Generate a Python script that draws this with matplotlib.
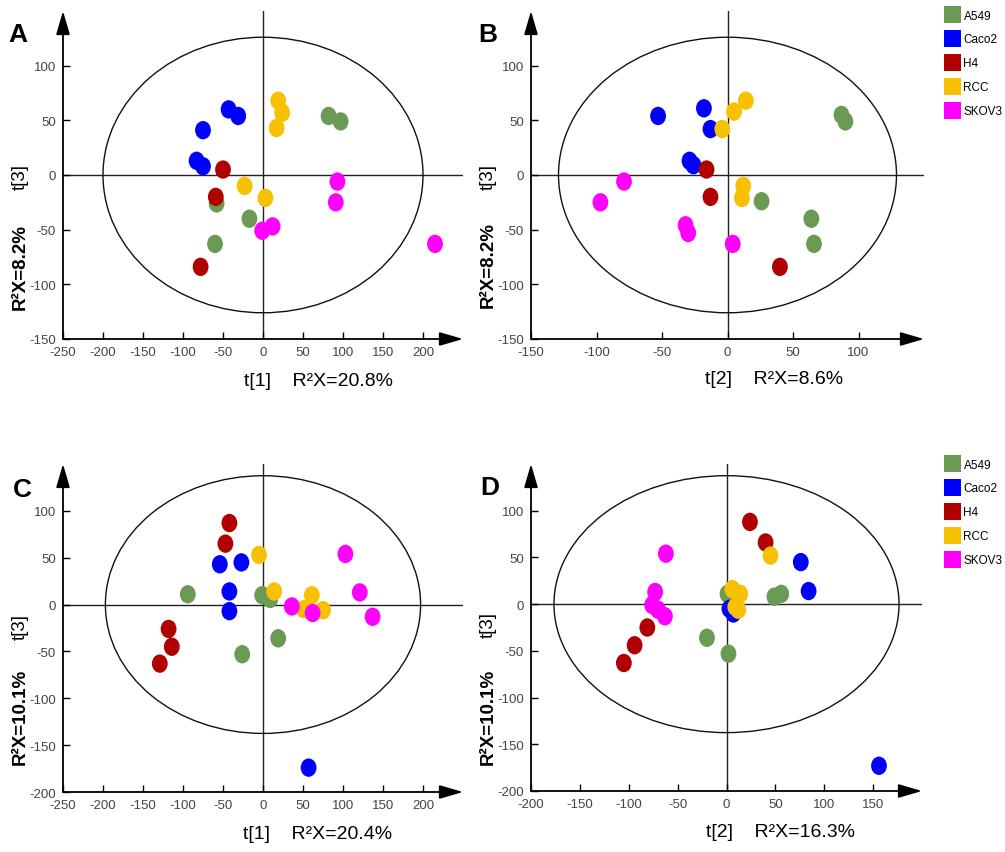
import matplotlib
matplotlib.use("Agg")
import matplotlib.pyplot as plt
from matplotlib.patches import Ellipse, Patch
from matplotlib.path import Path
import numpy as np

plt.rcParams['font.family'] = ['Liberation Sans', 'DejaVu Sans']
plt.rcParams['axes.unicode_minus'] = False

groups = ["A549", "Caco2", "H4", "RCC", "SKOV3"]
colors = ["#6b9a55", "#0000ff", "#b00000", "#f7c000", "#ff00ff"]

# panel A: t[1] vs t[3]
a_x = {
    "A549": [82, 97, -58, -17, -60],
    "Caco2": [-43, -31, -75, -83, -75],
    "H4": [-50, -59, -78],
    "RCC": [19, 24, 17, -23, 3],
    "SKOV3": [93, 91, 12, -1, 215],
}
a_y = {
    "A549": [54, 49, -26, -40, -63],
    "Caco2": [60, 54, 41, 13, 8],
    "H4": [5, -20, -84],
    "RCC": [68, 57, 43, -10, -21],
    "SKOV3": [-6, -25, -47, -51, -63],
}

# panel B: t[2] vs t[3]
b_x = {
    "A549": [87, 90, 26, 64, 66],
    "Caco2": [-53, -18, -13, -29, -26],
    "H4": [-16, -13, 40],
    "RCC": [14, 5, -4, 12, 11],
    "SKOV3": [-79, -97, -32, -30, 4],
}
b_y = {
    "A549": [55, 49, -24, -40, -63],
    "Caco2": [54, 61, 42, 13, 9],
    "H4": [5, -20, -84],
    "RCC": [68, 58, 42, -10, -21],
    "SKOV3": [-6, -25, -46, -53, -63],
}

# panel C: t[1] vs t[3]
c_x = {
    "A549": [-94, -1, 9, 19, -26],
    "Caco2": [-54, -27, -42, -42, 57],
    "H4": [-42, -47, -118, -114, -129],
    "RCC": [-5, 14, 61, 51, 75],
    "SKOV3": [103, 121, 137, 36, 62],
}
c_y = {
    "A549": [11, 10, 6, -36, -53],
    "Caco2": [43, 45, 14, -7, -174],
    "H4": [87, 65, -26, -45, -63],
    "RCC": [53, 14, 10, -5, -6],
    "SKOV3": [54, 13, -13, -2, -9],
}

# panel D: t[2] vs t[3]
d_x = {
    "A549": [1, 49, 56, -20, 2],
    "Caco2": [76, 84, 7, 3, 156],
    "H4": [24, 40, -81, -94, -105],
    "RCC": [45, 6, 14, 9, 12],
    "SKOV3": [-62, -73, -76, -70, -63],
}
d_y = {
    "A549": [11, 8, 11, -36, -53],
    "Caco2": [45, 14, -10, -5, -173],
    "H4": [88, 66, -25, -44, -63],
    "RCC": [52, 16, 11, -3, -6],
    "SKOV3": [54, 13, -1, -6, -13],
}

W, H = 1005, 853
fig = plt.figure(figsize=(W / 100, H / 100), dpi=100)


def box(left, top, right, bottom):
    return [left / W, 1 - bottom / H, (right - left) / W, (bottom - top) / H]


# tall ellipse marker
circ = Path.unit_circle()
marker = Path(circ.vertices * np.array([0.86, 1.0]), circ.codes)


def panel(rect, xs, ys, xlim, ylim, xticks, yticks, ell_w, ell_h):
    ax = fig.add_axes(rect)
    ax.set_xlim(*xlim)
    ax.set_ylim(*ylim)
    for s in ax.spines.values():
        s.set_visible(False)
    arrow = dict(arrowstyle='-|>,head_length=1.2,head_width=0.35', color='k', lw=1.3,
                 mutation_scale=12, shrinkA=0, shrinkB=0)
    ax.annotate('', xy=(1, 0), xytext=(0, 0), xycoords='axes fraction', arrowprops=arrow)
    ax.annotate('', xy=(0, 1), xytext=(0, 0), xycoords='axes fraction', arrowprops=arrow)
    ax.axhline(0, color='#222222', lw=1.0, zorder=1)
    ax.axvline(0, color='#222222', lw=1.0, zorder=1)
    ax.add_patch(Ellipse((0, 0), ell_w, ell_h, fill=False, ec='#111111', lw=1.0, zorder=1))
    for g, c in zip(groups, colors):
        ax.scatter(xs[g], ys[g], s=175, marker=marker, color=c, edgecolors='none', zorder=3)
    ax.set_xticks(xticks)
    ax.set_yticks(yticks)
    ax.tick_params(direction='in', length=5, width=1, color='k', labelcolor='#444444',
                   labelsize=9.5, pad=5)
    return ax


ax_a = panel(box(63, 12, 463, 340), a_x, a_y, (-250, 250), (-150, 150),
             np.arange(-250, 201, 50), np.arange(-150, 101, 50), 400, 252)
ax_b = panel(box(531, 12, 924, 340), b_x, b_y, (-150, 150), (-150, 150),
             np.arange(-150, 101, 50), np.arange(-150, 101, 50), 258, 252)
ax_c = panel(box(63, 465, 463, 793), c_x, c_y, (-250, 250), (-200, 150),
             np.arange(-250, 201, 50), np.arange(-200, 101, 50), 394, 275)
ax_d = panel(box(531, 465, 922, 792), d_x, d_y, (-200, 200), (-200, 150),
             np.arange(-200, 151, 50), np.arange(-200, 101, 50), 353, 275)


def ftext(px, py, s, **kw):
    fig.text(px / W, 1 - py / H, s, **kw)


# panel letters
for (px, py), lab in zip([(18, 35), (488, 35), (22, 490), (490, 488)], "ABCD"):
    ftext(px, py, lab, fontsize=19, fontweight='bold', ha='center', va='center')

# axis titles
xlabs = [(318, 382, "t[1]    R²X=20.8%"), (774, 380, "t[2]    R²X=8.6%"),
         (318, 835, "t[1]    R²X=20.4%"), (780, 833, "t[2]    R²X=16.3%")]
for px, py, s in xlabs:
    ftext(px, py, s, fontsize=14, ha='center', va='center')

ylabs = [(20, 267, 177, "R²X=8.2%"), (488, 265, 177, "R²X=8.2%"),
         (20, 717, 627, "R²X=10.1%"), (488, 717, 625, "R²X=10.1%")]
for px, py, ty, s in ylabs:
    ftext(px, py, s, fontsize=13.5, fontweight='bold', rotation=90, ha='center', va='center')
    ftext(px, ty, "t[3]", fontsize=13.5, rotation=90, ha='center', va='center')

# legends
handles = [Patch(facecolor=c, edgecolor='none') for c in colors]
for top in [7, 456]:
    fig.legend(handles, groups, loc='upper left', bbox_to_anchor=(944 / W, 1 - top / H),
               frameon=False, fontsize=8.5, handlelength=1.4, handleheight=1.9,
               labelspacing=0.55, handletextpad=0.25, borderaxespad=0, borderpad=0)

fig.savefig("out.png", dpi=100)
